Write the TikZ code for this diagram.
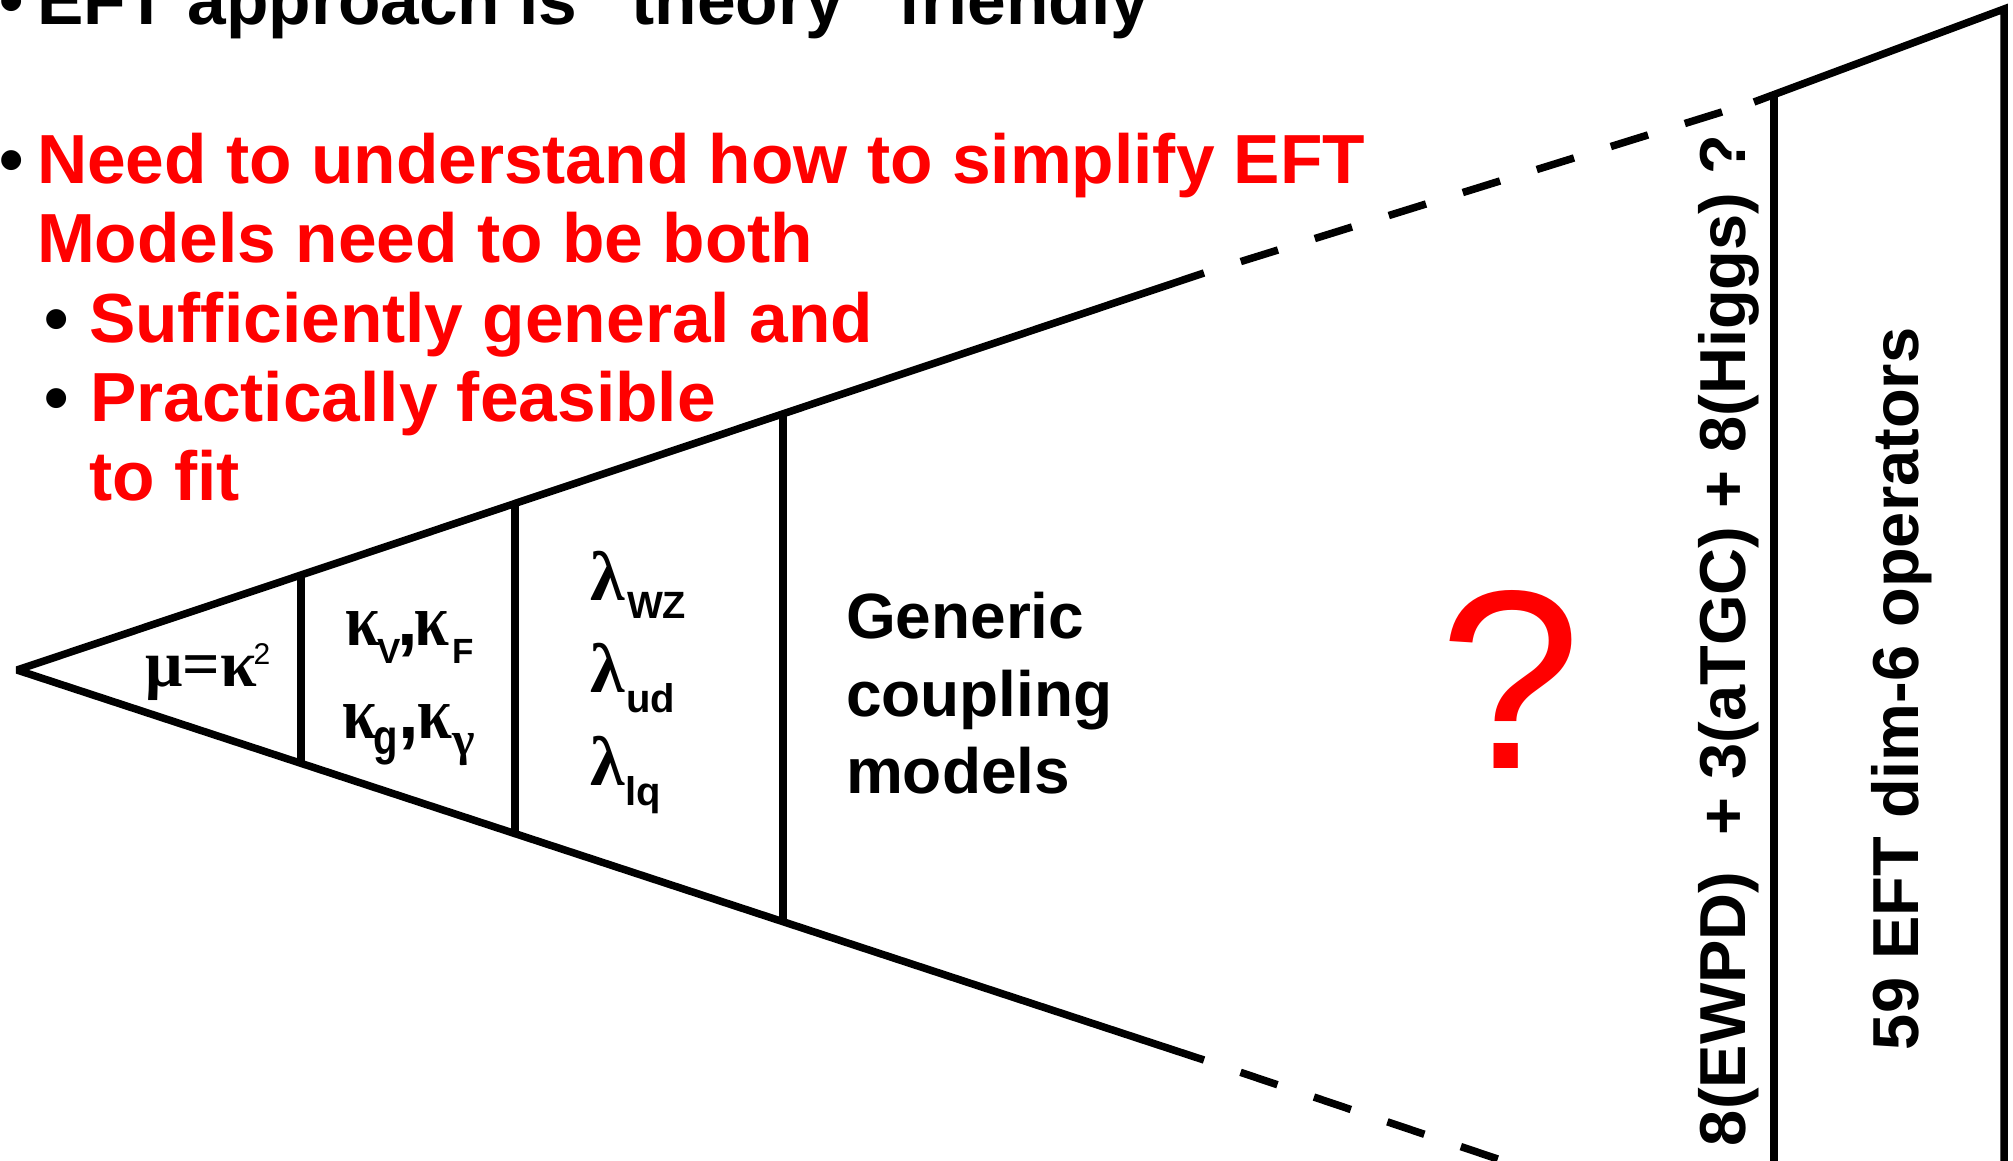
\documentclass[tikz,border=0pt]{standalone}
\usepackage{fontspec}
\setmainfont{Liberation Sans}
\newfontfamily\grk{Liberation Serif}
\definecolor{eftred}{RGB}{255,0,0}
\newcommand\kx[1]{\scalebox{0.85}[1]{#1}}
\newcommand\mysub[3]{\raisebox{#2}{\fontsize{#1}{#1}\selectfont\rmfamily\bfseries #3}}
\tikzset{
  txt/.style={anchor=base west, inner sep=0pt, outer sep=0pt},
  bigtxt/.style={txt, font=\fontsize{69.5}{79}\selectfont\bfseries},
  redtxt/.style={bigtxt, text=eftred},
  sanssz/.style={txt, font=\fontsize{#1}{#1}\selectfont\bfseries},
  grksz/.style={txt, font=\grk\fontsize{#1}{#1}\selectfont\bfseries},
  edgeline/.style={line width=7.5pt},
  dashline/.style={line width=7.5pt, dash pattern=on 39pt off 38.5pt, dash phase=39pt},
  sepline/.style={line width=7.5pt},
}
\begin{document}
\begin{tikzpicture}[x=1pt,y=-1pt]
\useasboundingbox (0,0) rectangle (2013,1160);
\fill[white] (0,0) rectangle (2013,1160);

% ---- geometry ----
\coordinate (apex) at (17,670);
\coordinate (upA) at (1204,273);
\coordinate (upB) at (1754,102);
\coordinate (tr) at (2004,9);
\coordinate (br) at (2004,1175);
\coordinate (boxTL) at (1774,95);
\coordinate (boxBL) at (1774,1175);
\coordinate (lowA) at (1204,1060);
\coordinate (lowB) at (1560,1180);

\coordinate (s1t) at (301,574.5);  \coordinate (s1b) at (301,763.8);
\coordinate (s2t) at (515,503.1);  \coordinate (s2b) at (515,834.0);
\coordinate (s3t) at (783,413.6);  \coordinate (s3b) at (783,921.9);

\draw[edgeline, line join=bevel] (lowA) -- (apex) -- (upA);
\draw[dashline] (upA) -- (upB);
\draw[dashline] (lowA) -- (lowB);
\draw[edgeline] (upB) -- (tr) -- (br);
\draw[edgeline] (boxTL) -- (boxBL);
\draw[sepline] (s1t) -- (s1b);
\draw[sepline] (s2t) -- (s2b);
\draw[sepline] (s3t) -- (s3b);

% ---- bullet text ----
\node[bigtxt] (b0) at (-1,24.5) {•};
\node[bigtxt] (t0) at (37,24.5) {EFT approach is “theory” friendly};
\node[bigtxt] (b1) at (-1,183) {•};
\node[redtxt] (t1) at (37,183) {Need to understand how to simplify EFT};
\node[redtxt] (t2) at (37,262) {Models need to be both};
\node[bigtxt] (b2) at (44,342) {•};
\node[redtxt] (t3) at (89,342) {Sufficiently general and};
\node[bigtxt] (b3) at (44,421) {•};
\node[redtxt] (t4) at (90,421) {Practically feasible};
\node[redtxt] (t5) at (89.5,500) {to fit};

% ---- mu = kappa^2 ----
\node[grksz=66] (mu) at (145,686) {μ=κ\kern-3pt\raisebox{22pt}{\fontsize{30}{30}\selectfont\rmfamily\mdseries 2}};

% ---- kappas ----
\node[grksz=74] (kVF) at (345,645)
  {\kx{κ}\kern-2pt\mysub{35}{-18pt}{V}\kern-3.3pt{\rmfamily ,}\kern-4.5pt\kx{κ}\kern3.8pt\mysub{35}{-18pt}{F}};
\node[grksz=74] (kgG) at (342,738)
  {\kx{κ}\kern-3pt\raisebox{-16pt}{\scalebox{0.8}[1]{\fontsize{50}{50}\selectfont\rmfamily\bfseries g}}\kern0pt{\rmfamily ,}\kern-1pt\kx{κ}\raisebox{-17pt}{\fontsize{48}{48}\selectfont γ}};

% ---- lambdas ----
\node[grksz=70] (l1) at (590,600) {λ};
\node[sanssz=38] (l1s) at (627,618) {WZ};
\node[grksz=70] (l2) at (590,692) {λ};
\node[sanssz=40] (l2s) at (626,712) {ud};
\node[grksz=70] (l3) at (590,785) {λ};
\node[sanssz=40] (l3s) at (625,805) {lq};

% ---- generic coupling models ----
\node[sanssz=64] (g1) at (846,638) {Generic};
\node[sanssz=64] (g2) at (846,716) {coupling};
\node[sanssz=64] (g3) at (846,793) {models};

% ---- big question mark ----
\node[txt, text=eftred, font=\fontsize{255}{255}\selectfont] (qm) at (1439,768) {?};

% ---- rotated labels ----
\node[sanssz=65, rotate=90] (ops) at (1745,1146) {8(EWPD)\ \ + 3(aTGC) + 8(Higgs) ?};
\node[sanssz=65, rotate=90] (eft) at (1918,1050) {59 EFT dim-6 operators};
\end{tikzpicture}
\end{document}
